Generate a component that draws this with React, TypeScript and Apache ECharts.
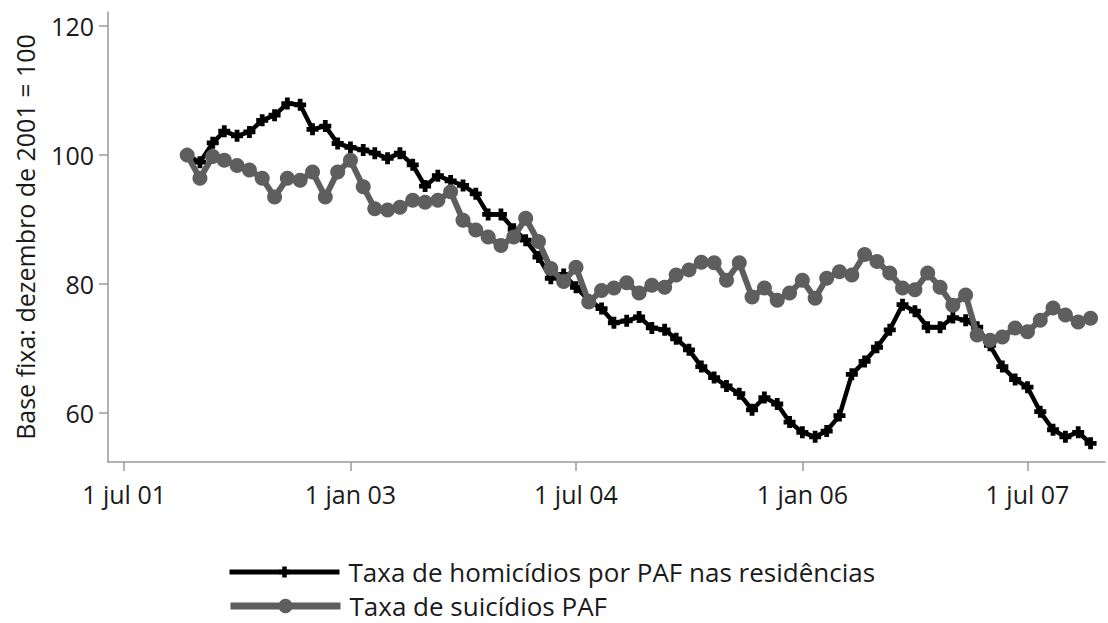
import React, { useEffect, useRef } from "react";
import * as echarts from "echarts";

// Monthly index values, December 2001 = 100 (Dec 2001 .. Dec 2007)
const seriesNames = [
  "Taxa de homicídios por PAF nas residências",
  "Taxa de suicídios PAF",
];

const homicides = [
  100, 98.9, 101.9, 103.7, 103, 103.6, 105.4, 106.2, 108, 107.8,
  104, 104.5, 101.8, 101.2, 100.8, 100.3, 99.5, 100.3, 98.5, 95.2,
  96.8, 96, 95.3, 94, 90.8, 90.8, 88.5, 86.8, 84.2, 80.9,
  81.5, 79.5, 77.5, 76.2, 74, 74.3, 74.9, 73.2, 72.9, 71.5,
  69.8, 67.2, 65.5, 64.2, 63, 60.5, 62.4, 61.4, 58.6, 57,
  56.3, 57.2, 59.6, 66, 68, 70.2, 72.9, 76.8, 75.8, 73.3,
  73.3, 74.8, 74.4, 73.3, 70.5, 67.2, 65.2, 64, 60.2, 57.4,
  56.3, 57, 55.3,
];

const suicides = [
  100, 96.4, 99.8, 99.2, 98.4, 97.7, 96.4, 93.5, 96.4, 96.1,
  97.4, 93.5, 97.4, 99.2, 95.1, 91.7, 91.5, 91.9, 93, 92.7,
  93, 94.3, 89.9, 88.4, 87.3, 86, 87.3, 90.2, 86.6, 82.4,
  80.4, 82.6, 77.2, 79, 79.4, 80.2, 78.6, 79.8, 79.5, 81.4,
  82.2, 83.4, 83.3, 80.6, 83.3, 78, 79.4, 77.5, 78.6, 80.6,
  77.8, 80.9, 81.9, 81.4, 84.6, 83.5, 81.7, 79.4, 79.1, 81.7,
  79.5, 76.7, 78.3, 72.1, 71.3, 71.8, 73.2, 72.6, 74.4, 76.3,
  75.2, 74.1, 74.7,
];

const firstMonth = { year: 2001, month: 12 }; // December 2001
const xTickDates = ["2001-07-01", "2003-01-01", "2004-07-01", "2006-01-01", "2007-07-01"];
const xTickLabels = ["1 jul 01", "1 jan 03", "1 jul 04", "1 jan 06", "1 jul 07"];
const yTicks = [60, 80, 100, 120];
const yAxisName = "Base fixa: dezembro de 2001 = 100";

function toTs(s: string): number {
  const [y, m, d] = s.split("-").map(Number);
  return Date.UTC(y, m - 1, d);
}

function monthTs(i: number): number {
  return Date.UTC(firstMonth.year, firstMonth.month - 1 + i, 1);
}

const FONT = "'Open Sans', sans-serif";
const TEXT = "#1a1a1a";
const AXIS = "#9a9a9a";
const GREY = "#5e5e5e";
const CROSS = "path://M3,0h4v3h3v4h-3v3h-4v-3h-3v-4h3z";

export default function App() {
  const ref = useRef<HTMLDivElement>(null);

  useEffect(() => {
    document.body.style.margin = "0";
    if (!ref.current) return;
    const chart = echarts.init(ref.current, undefined, { renderer: "svg" });
    const tickTs = xTickDates.map(toTs);

    const legendText = {
      fontFamily: FONT,
      fontSize: 26,
      color: TEXT,
      padding: [0, 0, 0, 4],
    };

    chart.setOption({
      animation: false,
      backgroundColor: "#ffffff",
      textStyle: { fontFamily: FONT },
      grid: { left: 108, right: 3, top: 12, bottom: 161, containLabel: false },
      legend: [
        {
          orient: "vertical",
          left: 222,
          top: 554,
          itemWidth: 110,
          itemHeight: 14,
          data: [seriesNames[0]],
          lineStyle: { width: 5 },
          textStyle: legendText,
        },
        {
          orient: "vertical",
          left: 222,
          top: 588,
          itemWidth: 110,
          itemHeight: 18,
          data: [seriesNames[1]],
          lineStyle: { width: 7 },
          textStyle: legendText,
        },
      ],
      xAxis: {
        type: "value",
        min: toTs("2001-05-23"),
        max: toTs("2008-01-05"),
        splitLine: { show: false },
        axisLine: { show: true, onZero: false, lineStyle: { color: AXIS, width: 1.5 } },
        axisTick: {
          show: true,
          length: 9,
          customValues: tickTs,
          lineStyle: { color: AXIS, width: 1.5 },
        },
        axisLabel: {
          customValues: tickTs,
          margin: 19,
          fontSize: 25,
          fontFamily: FONT,
          color: TEXT,
          formatter: (v: number) => {
            const idx = tickTs.findIndex((t) => Math.abs(t - v) < 86400000);
            return idx >= 0 ? xTickLabels[idx] : "";
          },
        },
      },
      yAxis: {
        type: "value",
        min: 52.4,
        max: 122.2,
        name: yAxisName,
        nameLocation: "middle",
        nameGap: 71,
        nameTextStyle: { fontSize: 25, fontFamily: FONT, color: TEXT },
        splitLine: { show: false },
        axisLine: { show: true, lineStyle: { color: AXIS, width: 1.5 } },
        axisTick: {
          show: true,
          length: 9,
          customValues: yTicks,
          lineStyle: { color: AXIS, width: 1.5 },
        },
        axisLabel: {
          customValues: yTicks,
          margin: 14,
          fontSize: 25,
          fontFamily: FONT,
          color: TEXT,
        },
      },
      series: [
        {
          name: seriesNames[0],
          type: "line",
          data: homicides.map((v, i) => [monthTs(i), v]),
          symbol: CROSS,
          symbolSize: 12,
          showAllSymbol: true,
          lineStyle: { color: "#000000", width: 4.5 },
          itemStyle: { color: "#000000" },
          z: 2,
        },
        {
          name: seriesNames[1],
          type: "line",
          data: suicides.map((v, i) => [monthTs(i), v]),
          symbol: "circle",
          symbolSize: 15,
          showAllSymbol: true,
          lineStyle: { color: GREY, width: 6 },
          itemStyle: { color: GREY },
          z: 3,
        },
      ],
    });

    return () => chart.dispose();
  }, []);

  return <div ref={ref} style={{ width: 1108, height: 623 }} />;
}
